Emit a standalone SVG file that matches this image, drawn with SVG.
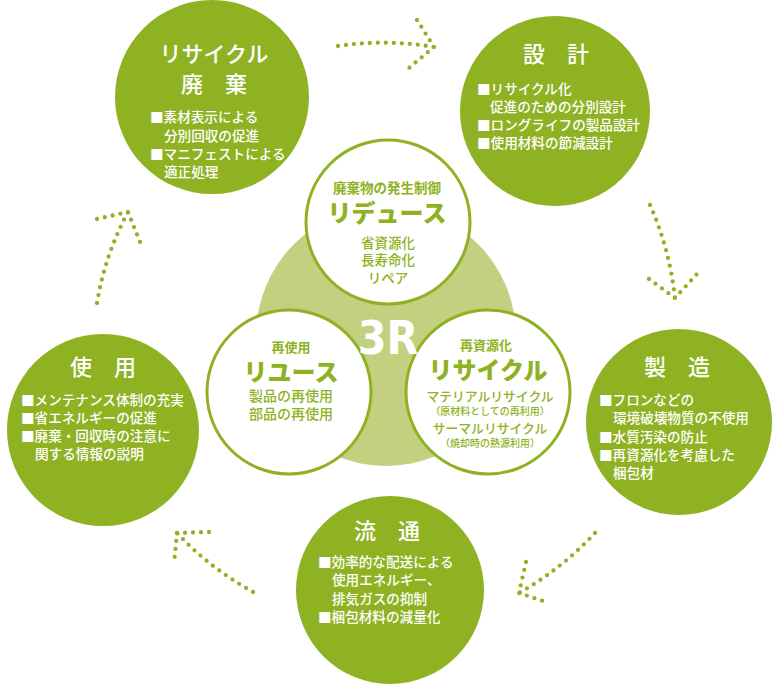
<svg xmlns="http://www.w3.org/2000/svg" width="780" height="700" viewBox="0 0 780 700">
<style>
.big{fill:#8fb223}
.sub{fill:#fff;stroke:#8fb223;stroke-width:3}
.t{font-family:Roboto,"Noto Sans CJK JP",sans-serif}
.ttl{fill:#fff;font-size:22px;font-weight:500;text-anchor:middle}
.bd{fill:#fff;font-size:13.6px;font-weight:500}
.g{fill:#8fb223;text-anchor:middle}
.dot{fill:none;stroke:#8fb223;stroke-width:4.3;stroke-linecap:round;stroke-linejoin:round;stroke-dasharray:0 8}
</style>
<rect width="780" height="700" fill="#fff"/>

<g id="center">
<circle cx="386" cy="336" r="130" fill="#c3d080"/>
</g>

<g id="reduce">
<circle class="sub" cx="388" cy="222" r="82"/>
<text class="t g" font-weight="500"><tspan x="387" y="193" font-size="13.5" font-weight="700">廃棄物の発生制御</tspan><tspan x="387" y="222" font-size="24" font-weight="900">リデュース</tspan><tspan x="388" y="248" font-size="13.5">省資源化</tspan><tspan x="388" y="265" font-size="13.5">長寿命化</tspan><tspan x="388" y="283" font-size="13.5">リペア</tspan></text>
</g>

<g id="reuse">
<circle class="sub" cx="289" cy="392" r="82"/>
<text class="t g" font-weight="500"><tspan x="291" y="352" font-size="13" font-weight="700">再使用</tspan><tspan x="291" y="381" font-size="24" font-weight="900">リユース</tspan><tspan x="291" y="401" font-size="14">製品の再使用</tspan><tspan x="291" y="419" font-size="14">部品の再使用</tspan></text>
</g>

<g id="recycle">
<circle class="sub" cx="488" cy="392" r="82"/>
<text class="t g" font-weight="500"><tspan x="486" y="350" font-size="13" font-weight="700">再資源化</tspan><tspan x="488" y="379" font-size="24" font-weight="900">リサイクル</tspan><tspan x="490" y="401" font-size="12.8">マテリアルリサイクル</tspan><tspan x="490" y="415" font-size="10">（原材料としての再利用）</tspan><tspan x="490" y="433" font-size="12.8">サーマルリサイクル</tspan><tspan x="490" y="447" font-size="10">（焼却時の熱源利用）</tspan></text>
</g>

<g id="label-3r">
<text x="388" y="354" fill="#fff" font-family="DejaVu Sans Condensed, DejaVu Sans, sans-serif" font-stretch="condensed" font-weight="700" font-size="46" text-anchor="middle">3R</text>
</g>

<g id="recycle-disposal">
<circle class="big" cx="212" cy="97" r="97"/>
<text class="t ttl"><tspan x="214" y="62">リサイクル</tspan><tspan x="214" y="92">廃　棄</tspan></text>
<text class="t bd"><tspan x="150" y="122">■素材表示による</tspan><tspan x="164" y="141">分別回収の促進</tspan><tspan x="150" y="159">■マニフェストによる</tspan><tspan x="164" y="177">適正処理</tspan></text>
</g>

<g id="design">
<circle class="big" cx="555" cy="111" r="95"/>
<text class="t ttl" x="556" y="62">設　計</text>
<text class="t bd"><tspan x="477" y="94">■リサイクル化</tspan><tspan x="490" y="111.5">促進のための分別設計</tspan><tspan x="477" y="129.5">■ロングライフの製品設計</tspan><tspan x="477" y="147.5">■使用材料の節減設計</tspan></text>
</g>

<g id="manufacture">
<circle class="big" cx="679" cy="422" r="93"/>
<text class="t ttl" x="677" y="375">製　造</text>
<text class="t bd"><tspan x="599" y="405">■フロンなどの</tspan><tspan x="613" y="423">環境破壊物質の不使用</tspan><tspan x="599" y="442">■水質汚染の防止</tspan><tspan x="599" y="460">■再資源化を考慮した</tspan><tspan x="613" y="478">梱包材</tspan></text>
</g>

<g id="distribution">
<circle class="big" cx="390" cy="590" r="94"/>
<text class="t ttl" x="387" y="539">流　通</text>
<text class="t bd"><tspan x="318" y="567">■効率的な配送による</tspan><tspan x="332" y="585">使用エネルギー、</tspan><tspan x="332" y="604">排気ガスの抑制</tspan><tspan x="318" y="622">■梱包材料の減量化</tspan></text>
</g>

<g id="use">
<circle class="big" cx="103" cy="430" r="96"/>
<text class="t ttl" x="103" y="375">使　用</text>
<text class="t bd"><tspan x="21" y="405">■メンテナンス体制の充実</tspan><tspan x="21" y="423">■省エネルギーの促進</tspan><tspan x="21" y="441">■廃棄・回収時の注意に</tspan><tspan x="35" y="459">関する情報の説明</tspan></text>
</g>

<g id="connectors">
<path class="dot" d="M338,46 Q386,39 434,47"/>
<path class="dot" d="M417,20 L434,47 L409,68"/>
<path class="dot" d="M650,205 Q669.5,248.6 675,298"/>
<path class="dot" d="M649,279 L675,298 L697,274"/>
<path class="dot" d="M595,533 Q561.6,569 519,593"/>
<path class="dot" d="M526,562 L519,593 L549,603"/>
<path class="dot" d="M253,592 Q209,567.5 177,533"/>
<path class="dot" d="M209,532 L177,533 L174,564"/>
<path class="dot" d="M97,303 Q105,255 128,212"/>
<path class="dot" d="M97,219 L128,212 L140,242"/>
</g>
</svg>
